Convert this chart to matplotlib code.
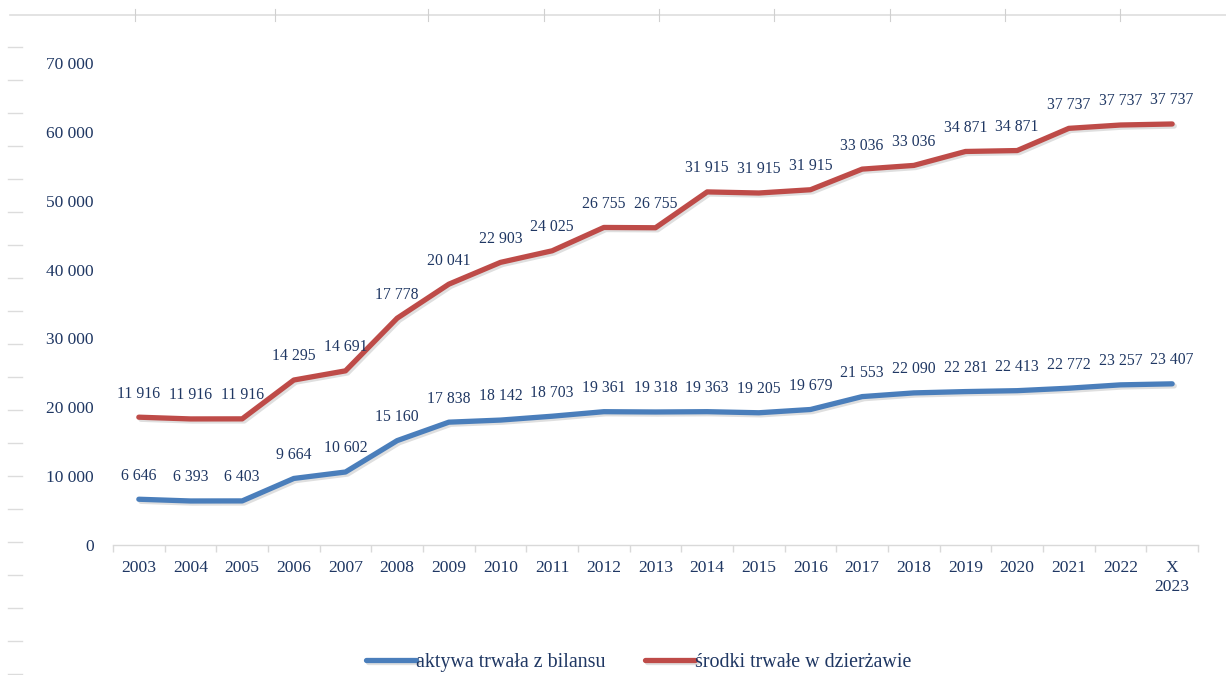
import numpy as np
import matplotlib.pyplot as plt
import matplotlib.patheffects as pe
from matplotlib.lines import Line2D

plt.rcParams['font.family'] = ['Liberation Serif', 'DejaVu Serif']

years = ['2003', '2004', '2005', '2006', '2007', '2008', '2009', '2010', '2011',
         '2012', '2013', '2014', '2015', '2016', '2017', '2018', '2019', '2020',
         '2021', '2022', 'X\n2023']
aktywa = [6646, 6393, 6403, 9664, 10602, 15160, 17838, 18142, 18703, 19361,
          19318, 19363, 19205, 19679, 21553, 22090, 22281, 22413, 22772, 23257, 23407]
dzierzawa = [11916, 11916, 11916, 14295, 14691, 17778, 20041, 22903, 24025, 26755,
             26755, 31915, 31915, 31915, 33036, 33036, 34871, 34871, 37737, 37737, 37737]
yticks = [0, 10000, 20000, 30000, 40000, 50000, 60000, 70000]

text_col = '#1f3763'
blue = '#4a7ebb'
red = '#be4b48'


def fmt(v):
    return '{:,}'.format(v).replace(',', ' ')


x = np.arange(len(years))
blue_y = np.array(aktywa)
red_y = blue_y + np.array(dzierzawa)  # stacked line

fig = plt.figure(figsize=(12.26, 6.75), dpi=100)
ax = fig.add_axes([113 / 1226, 1 - 545 / 675, (1198 - 113) / 1226, (545 - 63) / 675])

shadow = [pe.SimpleLineShadow(offset=(1.5, -1.5), alpha=0.25, shadow_color='gray'), pe.Normal()]
ax.plot(x, blue_y, color=blue, lw=3.8, solid_capstyle='round', solid_joinstyle='round',
        path_effects=shadow, label='aktywa trwała z bilansu')
ax.plot(x, red_y, color=red, lw=3.8, solid_capstyle='round', solid_joinstyle='round',
        path_effects=shadow, label='środki trwałe w dzierżawie')

for xi, yb, vb, yr, vr in zip(x, blue_y, aktywa, red_y, dzierzawa):
    ax.annotate(fmt(vb), (xi, yb), xytext=(0, 17), textcoords='offset points',
                ha='center', va='center', fontsize=11.3, color=text_col)
    ax.annotate(fmt(vr), (xi, yr), xytext=(0, 17), textcoords='offset points',
                ha='center', va='center', fontsize=11.3, color=text_col)

ax.set_xlim(-0.5, len(years) - 0.5)
ax.set_ylim(0, 70000)
ax.set_yticks(yticks)
ax.set_yticklabels([fmt(v) for v in yticks])
ax.set_xticks(x)
ax.set_xticklabels(years)
ax.set_xticks(np.arange(-0.5, len(years)), minor=True)
ax.tick_params(axis='x', which='major', length=0, pad=11, labelsize=12.6, labelcolor=text_col)
ax.tick_params(axis='x', which='minor', length=5, color='#d9d9d9', width=1)
ax.tick_params(axis='y', length=0, pad=14, labelsize=12.5, labelcolor=text_col)
for s in ['top', 'right', 'left']:
    ax.spines[s].set_visible(False)
ax.spines['bottom'].set_color('#d9d9d9')
ax.spines['bottom'].set_linewidth(1)

fig.legend(loc='lower center', bbox_to_anchor=(0.521, -0.022), ncol=2, frameon=False,
           fontsize=14.4, handlelength=2.5, handletextpad=0.0, columnspacing=1.95,
           labelcolor=text_col)

# page artifacts around the chart
fig.add_artist(Line2D([10 / 1226, 1], [1 - 15 / 675] * 2, color='#dedede', lw=1.2))
for tx in [135, 275, 428, 544, 659, 774, 890, 1005, 1120]:
    fig.add_artist(Line2D([tx / 1226] * 2, [1 - 9 / 675, 1 - 21 / 675], color='#d0d0d0', lw=0.8))
for ty in np.arange(47, 675, 33):
    fig.add_artist(Line2D([8 / 1226, 22 / 1226], [1 - ty / 675] * 2, color='#dcdcdc', lw=1))

fig.savefig('out.png', dpi=100)
